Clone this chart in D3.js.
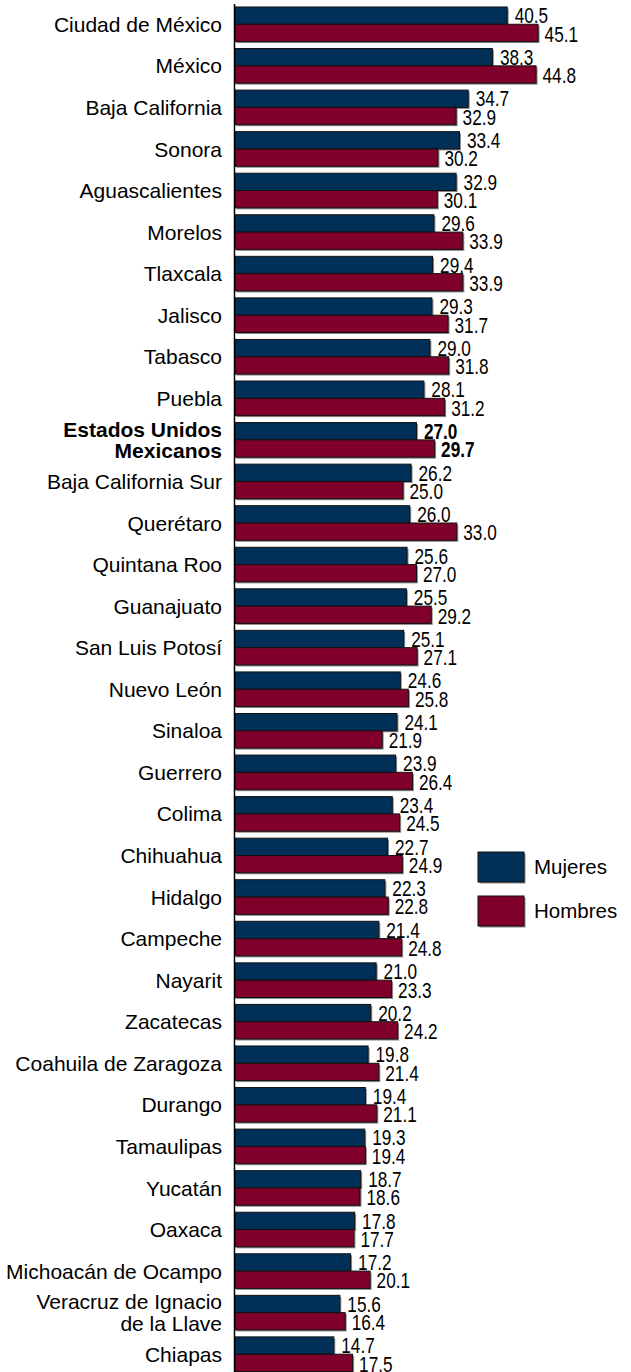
<!DOCTYPE html>
<html><head><meta charset="utf-8">
<script src="https://cdn.jsdelivr.net/npm/d3@7"></script>
<style>
html,body{margin:0;padding:0;background:#fff;}
svg{display:block;}
</style></head>
<body>
<script>
const categories = ["Ciudad de México","México","Baja California","Sonora","Aguascalientes","Morelos","Tlaxcala","Jalisco","Tabasco","Puebla","Estados Unidos Mexicanos","Baja California Sur","Querétaro","Quintana Roo","Guanajuato","San Luis Potosí","Nuevo León","Sinaloa","Guerrero","Colima","Chihuahua","Hidalgo","Campeche","Nayarit","Zacatecas","Coahuila de Zaragoza","Durango","Tamaulipas","Yucatán","Oaxaca","Michoacán de Ocampo","Veracruz de Ignacio de la Llave","Chiapas"];
const categoryLines = {"Estados Unidos Mexicanos":["Estados Unidos","Mexicanos"],"Veracruz de Ignacio de la Llave":["Veracruz de Ignacio","de la Llave"]};
const mujeres = [40.5,38.3,34.7,33.4,32.9,29.6,29.4,29.3,29.0,28.1,27.0,26.2,26.0,25.6,25.5,25.1,24.6,24.1,23.9,23.4,22.7,22.3,21.4,21.0,20.2,19.8,19.4,19.3,18.7,17.8,17.2,15.6,14.7];
const hombres = [45.1,44.8,32.9,30.2,30.1,33.9,33.9,31.7,31.8,31.2,29.7,25.0,33.0,27.0,29.2,27.1,25.8,21.9,26.4,24.5,24.9,22.8,24.8,23.3,24.2,21.4,21.1,19.4,18.6,17.7,20.1,16.4,17.5];
const seriesNames = ["Mujeres","Hombres"];
const seriesColors = ["#003057","#80002b"];
const highlight = "Estados Unidos Mexicanos";

const W = 631, H = 1372;
const svg = d3.select("body").append("svg").attr("width", W).attr("height", H);

const x = d3.scaleLinear().domain([0, 50]).range([235, 571]);
const y = d3.scaleBand().domain(categories).range([3.5, 3.5 + 33 * 41.56]).paddingInner(0.167).paddingOuter(0.0835);
const ys = d3.scaleBand().domain(seriesNames).range([0, y.bandwidth()]);

const rows = categories.map((c, i) => ({c, vals: [mujeres[i], hombres[i]]}));

const g = svg.selectAll("g.row").data(rows).join("g").attr("class", "row")
  .attr("transform", d => `translate(0,${y(d.c)})`);

// shadows
g.selectAll("rect.sh").data(d => d.vals.map((v, k) => ({v, k}))).join("rect")
  .attr("class", "sh")
  .attr("x", x(0) + 1.5).attr("y", d => ys(seriesNames[d.k]) + 1.5)
  .attr("width", d => x(d.v) - x(0)).attr("height", ys.bandwidth())
  .attr("fill", "#8a8a8a");

g.selectAll("rect.bar").data(d => d.vals.map((v, k) => ({v, k}))).join("rect")
  .attr("class", "bar")
  .attr("x", x(0)).attr("y", d => ys(seriesNames[d.k]))
  .attr("width", d => x(d.v) - x(0)).attr("height", ys.bandwidth())
  .attr("fill", d => seriesColors[d.k]).attr("stroke", "#111").attr("stroke-width", 1);

// value labels (narrow look via horizontal scaling)
g.each(function(d) {
  const bold = d.c === highlight;
  d3.select(this).selectAll("text.val").data(d.vals.map((v, k) => ({v, k}))).join("text")
    .attr("class", "val")
    .attr("transform", e => `translate(${x(e.v) + (e.k === 0 ? 7.5 : 6.5)},${ys(seriesNames[e.k]) + ys.bandwidth() / 2 + (e.k === 0 ? 0 : 1)}) scale(0.8,1)`)
    .attr("dy", "0.36em")
    .attr("font-family", "'Liberation Sans', Arial, sans-serif")
    .attr("font-size", 21.5)
    .attr("font-weight", bold ? "bold" : "normal")
    .attr("fill", "#000")
    .text(e => d3.format(".1f")(e.v));
});

// category labels
g.each(function(d) {
  const lines = categoryLines[d.c] || [d.c];
  const bold = d.c === highlight;
  const t = d3.select(this).append("text")
    .attr("text-anchor", "end")
    .attr("font-family", "'Liberation Sans', Arial, sans-serif")
    .attr("font-size", 21)
    .attr("font-weight", bold ? "bold" : "normal")
    .attr("fill", "#000");
  const cy = y.bandwidth() / 2;
  lines.forEach((l, i) => {
    t.append("tspan").attr("x", 222)
      .attr("y", cy + (i - (lines.length - 1) / 2) * 21.5)
      .attr("dy", "0.36em").text(l);
  });
});

// axis line
svg.append("line").attr("x1", 234.5).attr("x2", 234.5).attr("y1", 4).attr("y2", H)
  .attr("stroke", "#000").attr("stroke-width", 1.5);

// legend
const lg = svg.append("g").selectAll("g").data(seriesNames).join("g")
  .attr("transform", (d, i) => `translate(478,${852 + i * 44})`);
lg.append("rect").attr("x", 1.5).attr("y", 1.5).attr("width", 46).attr("height", 30).attr("fill", "#8a8a8a");
lg.append("rect").attr("width", 46).attr("height", 30).attr("fill", (d, i) => seriesColors[i]).attr("stroke", "#111").attr("stroke-width", 1);
lg.append("text").attr("x", 56).attr("y", 15).attr("dy", "0.36em")
  .attr("font-family", "'Liberation Sans', Arial, sans-serif").attr("font-size", 20.5)
  .text(d => d);
</script>
</body></html>
